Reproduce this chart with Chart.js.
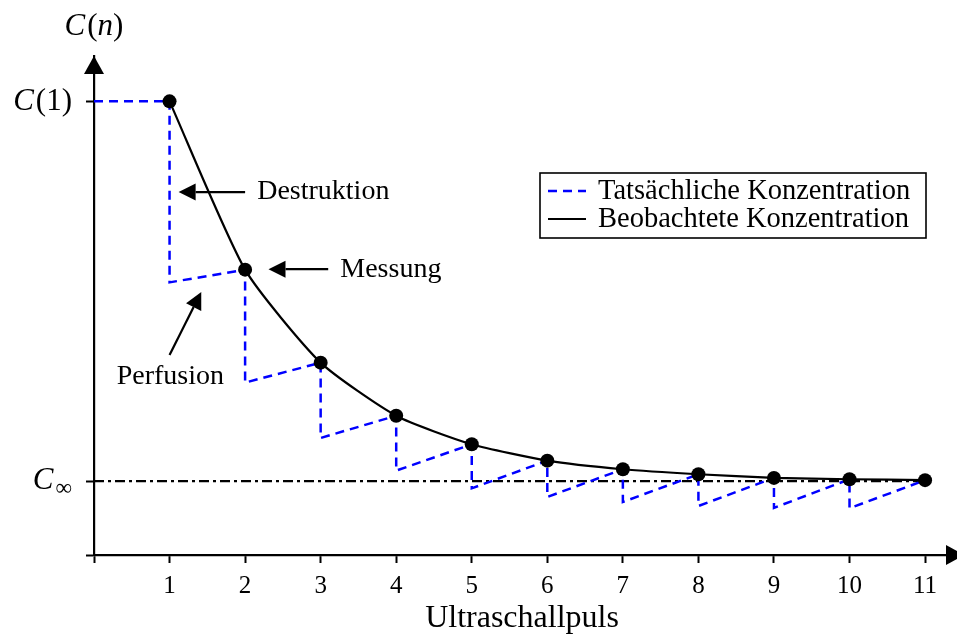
<!DOCTYPE html>
<html>
<head>
<meta charset="utf-8">
<script src="https://cdn.jsdelivr.net/npm/chart.js@4.4.0/dist/chart.umd.min.js"></script>
<style>
  html, body { margin: 0; padding: 0; background: #fff; }
</style>
</head>
<body>
<canvas id="chart" width="957" height="635"></canvas>
<script>
// Pulsnummern
const pulses = [1, 2, 3, 4, 5, 6, 7, 8, 9, 10, 11];
// beobachtete Konzentration (Messung vor jedem Puls)
const observed = [10.0, 6.29, 4.24, 3.07, 2.44, 2.08, 1.89, 1.78, 1.70, 1.67, 1.65];
// Konzentration direkt nach der Destruktion durch den Puls
const afterPulse = [6.01, 3.80, 2.58, 1.86, 1.47, 1.28, 1.17, 1.08, 1.04, 1.03];
// Grenzwert C_inf
const cInf = 1.63;

const xTicks = [0, 1, 2, 3, 4, 5, 6, 7, 8, 9, 10, 11];
const yTickValues = [0, cInf, 10];
const yTickLabels = ['', 'C\u221E', 'C(1)'];

const seriesLabels = ['Tatsächliche Konzentration', 'Beobachtete Konzentration'];

const SERIF = '"Liberation Serif", "DejaVu Serif", serif';

// Saegezahn: Destruktion (senkrecht) und Perfusion (schraeg)
const actualPts = [{ x: 0, y: observed[0] }];
for (let i = 0; i < afterPulse.length; i++) {
    actualPts.push({ x: pulses[i], y: observed[i] });
    actualPts.push({ x: pulses[i], y: afterPulse[i] });
}
actualPts.push({ x: pulses[pulses.length - 1], y: observed[observed.length - 1] });

const observedPts = pulses.map((p, i) => ({ x: p, y: observed[i] }));
const limitPts = [{ x: 0, y: cInf }, { x: pulses[pulses.length - 1], y: cInf }];

// Beschriftungen mit Pfeilen (Datenkoordinaten)
const notes = [
    { text: 'Destruktion', from: [2.0, 8.0], to: [1.12, 8.0], at: [2.16, 8.0], align: 'left' },
    { text: 'Messung', from: [3.10, 6.30], to: [2.31, 6.30], at: [3.26, 6.30], align: 'left' },
    { text: 'Perfusion', from: [1.0, 4.41], to: [1.42, 5.80], at: [1.01, 3.94], align: 'center' }
];

function arrow(ctx, x1, y1, x2, y2, len, half) {
    const a = Math.atan2(y2 - y1, x2 - x1);
    const bx = x2 - len * Math.cos(a), by = y2 - len * Math.sin(a);
    ctx.beginPath();
    ctx.moveTo(x1, y1);
    ctx.lineTo(bx, by);
    ctx.stroke();
    ctx.beginPath();
    ctx.moveTo(x2, y2);
    ctx.lineTo(bx - half * Math.sin(a), by + half * Math.cos(a));
    ctx.lineTo(bx + half * Math.sin(a), by - half * Math.cos(a));
    ctx.closePath();
    ctx.fill();
}

// gemischter Text (kursiv / aufrecht / tiefgestellt)
function drawRich(ctx, parts, x, y, align) {
    let total = 0;
    parts.forEach(p => {
        ctx.font = (p.italic ? 'italic ' : '') + p.size + 'px ' + SERIF;
        p.w = ctx.measureText(p.text).width + (p.gap || 0);
        total += p.w;
    });
    let cx = align === 'right' ? x - total : align === 'center' ? x - total / 2 : x;
    ctx.textAlign = 'left';
    ctx.textBaseline = 'middle';
    parts.forEach(p => {
        ctx.font = (p.italic ? 'italic ' : '') + p.size + 'px ' + SERIF;
        ctx.fillText(p.text, cx, y + (p.dy || 0));
        cx += p.w;
    });
}

function mathLabel(str, size) {
    // erstes Zeichen kursiv (C), Rest aufrecht, Unendlich tiefgestellt
    const parts = [{ text: str[0], italic: true, size: size, gap: 2 }];
    const rest = str.slice(1);
    if (rest === '\u221E') parts.push({ text: rest, size: size * 0.75, dy: 8 });
    else if (rest) parts.push({ text: rest, size: size });
    return parts;
}

const decorPlugin = {
    id: 'decor',
    afterDraw(chart) {
        const ctx = chart.ctx;
        const xs = chart.scales.x, ys = chart.scales.y;
        const area = chart.chartArea;
        ctx.save();
        ctx.fillStyle = '#000';
        ctx.strokeStyle = '#000';
        ctx.lineWidth = 2;

        // Achsenpfeile
        arrow(ctx, area.left, area.top + 20, area.left, area.top, 18, 10);
        arrow(ctx, area.right - 10, area.bottom, area.right + 14, area.bottom, 18, 10);

        // y-Beschriftungen
        yTickValues.forEach((v, i) => {
            if (!yTickLabels[i]) return;
            drawRich(ctx, mathLabel(yTickLabels[i], 31), area.left - 22, ys.getPixelForValue(v), 'right');
        });

        // Achsentitel oben
        drawRich(ctx, [
            { text: 'C', italic: true, size: 31, gap: 2 },
            { text: '(', size: 31 },
            { text: 'n', italic: true, size: 31 },
            { text: ')', size: 31 }
        ], area.left, 27, 'center');

        // Pfeil-Annotationen
        ctx.lineWidth = 2.2;
        notes.forEach(n => {
            arrow(ctx,
                xs.getPixelForValue(n.from[0]), ys.getPixelForValue(n.from[1]),
                xs.getPixelForValue(n.to[0]), ys.getPixelForValue(n.to[1]), 17, 8.5);
            ctx.font = '28px ' + SERIF;
            ctx.textAlign = n.align;
            ctx.textBaseline = 'middle';
            ctx.fillText(n.text, xs.getPixelForValue(n.at[0]), ys.getPixelForValue(n.at[1]));
        });

        // Legende
        const lx = area.right - 410, ly = area.top + 117, lw = 386, lh = 65;
        ctx.fillStyle = '#fff';
        ctx.fillRect(lx, ly, lw, lh);
        ctx.lineWidth = 1.6;
        ctx.strokeStyle = '#000';
        ctx.strokeRect(lx, ly, lw, lh);
        const legendSets = chart.data.datasets.filter(d => d.label);
        legendSets.sort((a, b) => seriesLabels.indexOf(a.label) - seriesLabels.indexOf(b.label));
        legendSets.forEach((d, i) => {
            const yy = ly + 18 + i * 28;
            ctx.strokeStyle = d.borderColor;
            ctx.lineWidth = d.borderWidth;
            ctx.setLineDash(d.borderDash || []);
            ctx.beginPath();
            ctx.moveTo(lx + 8, yy);
            ctx.lineTo(lx + 46, yy);
            ctx.stroke();
            ctx.setLineDash([]);
            ctx.fillStyle = '#000';
            ctx.font = '28.5px ' + SERIF;
            ctx.textAlign = 'left';
            ctx.textBaseline = 'middle';
            ctx.fillText(d.label, lx + 58, yy + 1);
        });
        ctx.restore();
    }
};

new Chart(document.getElementById('chart'), {
    type: 'scatter',
    data: {
        datasets: [
            {
                label: seriesLabels[1],
                data: observedPts,
                showLine: true,
                borderColor: '#000',
                borderWidth: 2.2,
                backgroundColor: '#000',
                pointRadius: 7,
                pointBackgroundColor: '#000',
                pointBorderWidth: 0,
                tension: 0.2,
                order: 0
            },
            {
                label: seriesLabels[0],
                data: actualPts,
                showLine: true,
                borderColor: '#0000ff',
                borderWidth: 2.5,
                borderDash: [9, 6],
                pointRadius: 0,
                tension: 0,
                order: 1
            },
            {
                label: '',
                data: limitPts,
                showLine: true,
                borderColor: '#000',
                borderWidth: 2.2,
                borderDash: [10, 4, 3, 4],
                pointRadius: 0,
                order: 2
            }
        ]
    },
    options: {
        responsive: false,
        animation: false,
        layout: { padding: { top: 56, right: 6, left: 0, bottom: 0 } },
        plugins: {
            legend: { display: false },
            tooltip: { enabled: false }
        },
        scales: {
            x: {
                type: 'linear',
                min: 0,
                max: 11.33,
                afterBuildTicks: scale => { scale.ticks = xTicks.map(v => ({ value: v })); },
                afterFit: scale => { scale.height = 80; },
                border: { color: '#000', width: 2.2 },
                grid: { drawOnChartArea: false, drawTicks: true, tickLength: 8, tickColor: '#000', tickWidth: 2 },
                ticks: {
                    color: '#000',
                    font: { family: SERIF, size: 25 },
                    padding: 8,
                    maxRotation: 0,
                    autoSkip: false,
                    callback: v => (v === 0 ? '' : String(v))
                },
                title: {
                    display: true,
                    text: 'Ultraschallpuls',
                    color: '#000',
                    font: { family: SERIF, size: 32, lineHeight: 1 },
                    padding: { top: 0, bottom: 0 }
                }
            },
            y: {
                type: 'linear',
                min: 0,
                max: 11,
                afterBuildTicks: scale => { scale.ticks = yTickValues.map(v => ({ value: v })); },
                afterFit: scale => { scale.width = 94; },
                border: { color: '#000', width: 2.2 },
                grid: { drawOnChartArea: false, drawTicks: true, tickLength: 8, tickColor: '#000', tickWidth: 2 },
                ticks: { display: false }
            }
        }
    },
    plugins: [decorPlugin]
});
</script>
</body>
</html>
